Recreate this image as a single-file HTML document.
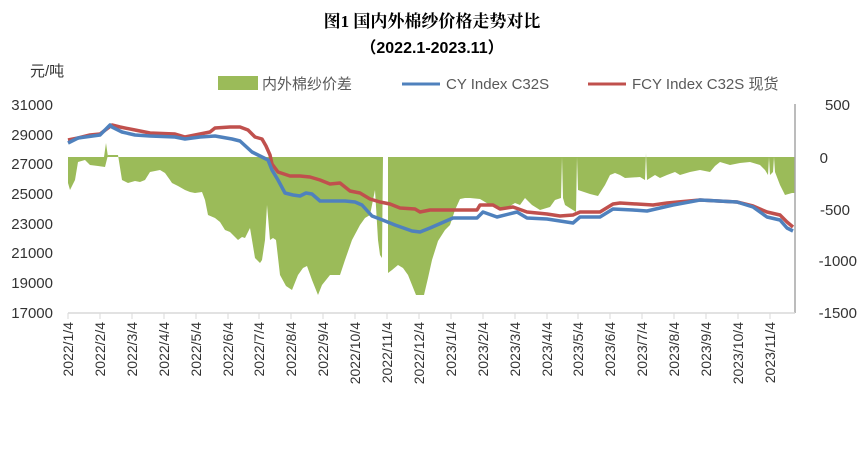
<!DOCTYPE html>
<html><head><meta charset="utf-8"><style>body{margin:0;background:#fff}</style></head><body>
<svg width="865" height="453" xmlns="http://www.w3.org/2000/svg" font-family="Liberation Sans, Noto Sans CJK SC, sans-serif">
<rect width="865" height="453" fill="#fff"/>
<text x="432" y="27" text-anchor="middle" font-size="17" font-weight="bold" font-family="Liberation Serif, Noto Serif CJK SC, serif">图1  国内外棉纱价格走势对比</text>
<text x="432" y="53" text-anchor="middle" font-size="16" font-weight="bold" font-family="Liberation Sans, Noto Sans CJK SC, sans-serif">（2022.1-2023.11）</text>
<text x="30" y="76" font-size="15" fill="#333">元/吨</text>
<rect x="218" y="76" width="40" height="14" fill="#9BBB59"/>
<text x="262" y="89" font-size="15" fill="#595959">内外棉纱价差</text>
<line x1="402" y1="84" x2="440" y2="84" stroke="#4F81BD" stroke-width="3"/>
<text x="446" y="89" font-size="15" fill="#595959">CY Index C32S</text>
<line x1="588" y1="84" x2="626" y2="84" stroke="#C0504D" stroke-width="3"/>
<text x="632" y="89" font-size="15" fill="#595959">FCY Index C32S 现货</text>
<g font-size="15" fill="#333" text-anchor="end">
<text x="53" y="110">31000</text><text x="53" y="140">29000</text><text x="53" y="169">27000</text><text x="53" y="199">25000</text><text x="53" y="229">23000</text><text x="53" y="258">21000</text><text x="53" y="288">19000</text><text x="53" y="318">17000</text>
</g>
<g font-size="15" fill="#333" text-anchor="end">
<text x="850" y="110">500</text><text x="828" y="163">0</text><text x="850" y="215">-500</text><text x="857" y="266">-1000</text><text x="857" y="318">-1500</text>
</g>
<path fill="#9BBB59" d="M68,157 L104,157 L106,143 L108,157 L384,157 L384,157 L68,157 Z M68,157 L68,183 L70,190 L75,180 L78,162 L85,160 L90,165 L98,166 L105,167 L108,155 L112,155 L118,155 L122,180 L128,183 L135,181 L140,182 L145,180 L150,172 L160,170 L165,173 L170,180 L172,183 L178,186 L185,190 L190,192 L195,193 L202,192 L205,200 L208,215 L215,218 L220,222 L225,230 L230,232 L238,240 L242,237 L245,238 L250,228 L255,258 L260,263 L262,260 L265,240 L267,205 L270,240 L273,238 L276,240 L280,275 L286,286 L292,290 L298,275 L303,268 L307,266 L312,280 L318,295 L322,285 L330,275 L340,275 L345,260 L352,240 L360,225 L365,218 L370,215 L372,205 L375,190 L378,240 L380,255 L382,258 L383,157 Z"/>
<path fill="#9BBB59" d="M388,157 L388,273 L392,270 L398,265 L403,268 L408,275 L412,285 L416,295 L424,295 L428,278 L432,260 L438,241 L445,230 L450,225 L455,210 L460,199 L465,198 L470,198 L480,199 L490,205 L500,208 L510,206 L515,203 L520,205 L525,198 L532,205 L540,210 L550,207 L555,200 L561,198 L562,157 L563,198 L565,205 L576,212 L577,157 L578,190 L590,194 L598,196 L605,185 L610,175 L615,173 L620,175 L625,178 L640,177 L645,180 L646,153 L647,180 L655,175 L660,178 L667,175 L675,172 L680,175 L690,172 L700,170 L710,172 L715,166 L720,162 L730,165 L740,163 L750,162 L760,165 L765,170 L768,175 L769,157 L770,175 L773,172 L774,157 L775,172 L780,185 L785,195 L792,193 L795,193 L795,157 Z"/>
<line x1="795" y1="104" x2="795" y2="313" stroke="#A6A6A6" stroke-width="1.5"/>
<line x1="68" y1="313" x2="795" y2="313" stroke="#D9D9D9" stroke-width="1.5"/>
<g stroke="#D9D9D9" stroke-width="1">
<path d="M68,313v6M100,313v6M132,313v6M164,313v6M196,313v6M228,313v6M259,313v6M291,313v6M323,313v6M355,313v6M387,313v6M419,313v6M451,313v6M483,313v6M515,313v6M547,313v6M578,313v6M610,313v6M642,313v6M674,313v6M706,313v6M738,313v6M770,313v6"/>
</g>
<polyline fill="none" stroke="#C0504D" stroke-width="3.5" stroke-linejoin="round" points="68,140 78,138 90,135 100,134 112,125 120,127 135,130 150,133 175,134 185,137 200,134 210,132 215,128 230,127 240,127 248,130 255,137 262,139 266,146 270,155 272,164 278,172 290,176 300,176 310,177 320,180 330,184 340,183 345,187 350,191 360,193 370,199 380,202 390,204 400,208 415,209 420,212 430,210 477,210 480,205 493,205 500,209 513,207 527,212 547,214 560,216 573,215 580,212 600,212 613,204 620,203 653,205 667,203 700,200 737,202 753,206 767,212 780,215 787,222 793,227"/>
<polyline fill="none" stroke="#4F81BD" stroke-width="3.5" stroke-linejoin="round" points="68,143 78,138 100,135 110,125 112,127 122,132 135,135 150,136 175,137 185,139 200,137 215,136 232,139 240,141 252,152 260,156 268,160 272,170 278,180 285,193 293,195 300,196 306,193 312,194 320,201 345,201 355,202 362,205 372,216 380,219 395,225 412,231 420,232 430,228 453,218 477,218 483,212 497,217 517,212 527,218 547,219 573,223 580,217 600,217 613,209 633,210 647,211 673,205 700,200 737,202 753,207 767,217 780,220 787,228 793,231"/>
<g font-size="14" fill="#333" text-anchor="end">
<text transform="translate(73,322) rotate(-90)">2022/1/4</text>
<text transform="translate(105,322) rotate(-90)">2022/2/4</text>
<text transform="translate(137,322) rotate(-90)">2022/3/4</text>
<text transform="translate(169,322) rotate(-90)">2022/4/4</text>
<text transform="translate(201,322) rotate(-90)">2022/5/4</text>
<text transform="translate(233,322) rotate(-90)">2022/6/4</text>
<text transform="translate(264,322) rotate(-90)">2022/7/4</text>
<text transform="translate(296,322) rotate(-90)">2022/8/4</text>
<text transform="translate(328,322) rotate(-90)">2022/9/4</text>
<text transform="translate(360,322) rotate(-90)">2022/10/4</text>
<text transform="translate(392,322) rotate(-90)">2022/11/4</text>
<text transform="translate(424,322) rotate(-90)">2022/12/4</text>
<text transform="translate(456,322) rotate(-90)">2023/1/4</text>
<text transform="translate(488,322) rotate(-90)">2023/2/4</text>
<text transform="translate(520,322) rotate(-90)">2023/3/4</text>
<text transform="translate(552,322) rotate(-90)">2023/4/4</text>
<text transform="translate(583,322) rotate(-90)">2023/5/4</text>
<text transform="translate(615,322) rotate(-90)">2023/6/4</text>
<text transform="translate(647,322) rotate(-90)">2023/7/4</text>
<text transform="translate(679,322) rotate(-90)">2023/8/4</text>
<text transform="translate(711,322) rotate(-90)">2023/9/4</text>
<text transform="translate(743,322) rotate(-90)">2023/10/4</text>
<text transform="translate(775,322) rotate(-90)">2023/11/4</text>
</g>
</svg>
</body></html>
